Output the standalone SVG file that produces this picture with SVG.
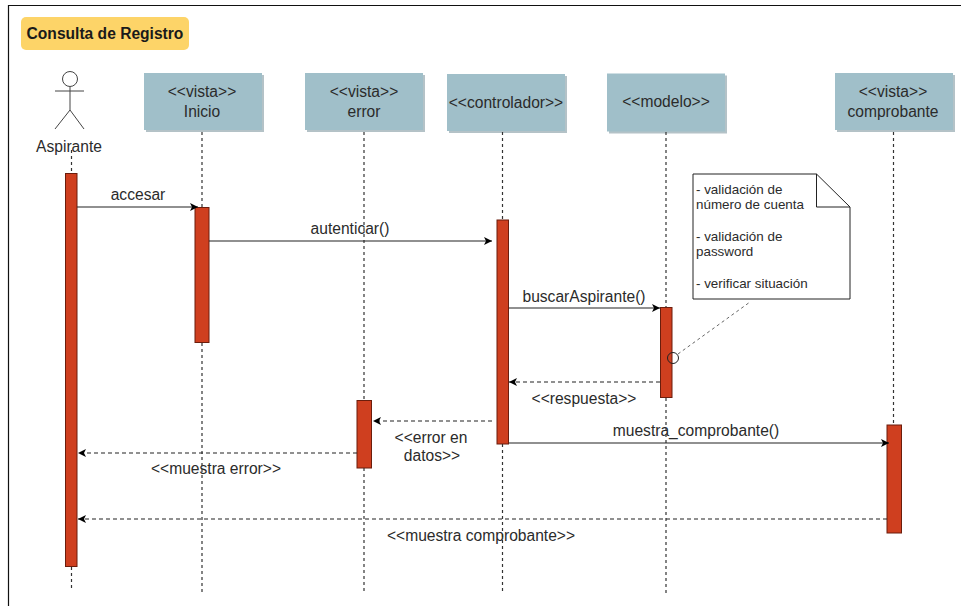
<svg xmlns="http://www.w3.org/2000/svg" width="961" height="606" viewBox="0 0 961 606">
<defs>
<marker id="arr" markerWidth="10" markerHeight="10" refX="8" refY="4.500" orient="auto" markerUnits="userSpaceOnUse"><path d="M0,0.500 L8,4.500 L0,8.500 L2,4.500 Z" fill="#000"/></marker>
</defs>
<style>
text{font-family:"Liberation Sans",Arial,sans-serif;fill:#2b2b2b;font-size:15.600px;text-anchor:middle}
.head{fill:#a0bfc9;filter:drop-shadow(2px 2px 0 #b4c2c7)}
.act{fill:#cf3f1f;stroke:#6b1d0c;stroke-width:1}
.life{stroke:#333;stroke-width:1.200;stroke-dasharray:3 3;fill:none}
.msg{stroke:#222;stroke-width:1.200;fill:none;marker-end:url(#arr)}
.ret{stroke:#222;stroke-width:1.200;fill:none;stroke-dasharray:4 3;marker-end:url(#arr)}
.note{font-size:13.400px;text-anchor:start}
</style>
<rect width="961" height="606" fill="#fff"/>
<path d="M8.500 606 V5.500 H961" fill="none" stroke="#111" stroke-width="1.200"/>
<g id="title"><rect x="21" y="17" width="168" height="33" rx="5" fill="#fdd468"/><text x="105" y="39" style="font-weight:bold;fill:#1a1a1a">Consulta de Registro</text></g>
<g id="aspirante">
<circle cx="70" cy="79" r="7.500" fill="#fff" stroke="#444" stroke-width="1"/>
<path d="M70 87V110M55 91H84M70 110L55 129M70 110L84 129" fill="none" stroke="#444" stroke-width="1"/>
<text x="69" y="152">Aspirante</text>
<rect class="act" x="65.500" y="173.500" width="11.500" height="393"/>
</g>
<g id="inicio">
<rect class="head" x="144" y="73" width="118" height="57"/>
<text x="202" y="97">&lt;&lt;vista&gt;&gt;</text><text x="202" y="117">Inicio</text>
<rect class="act" x="195" y="207.500" width="14" height="135"/>
</g>
<g id="error">
<rect class="head" x="305" y="73" width="118" height="57"/>
<text x="364" y="97">&lt;&lt;vista&gt;&gt;</text><text x="364" y="117">error</text>
<rect class="act" x="357" y="400.500" width="14.500" height="67.500"/>
</g>
<g id="controlador">
<rect class="head" x="447" y="74" width="118" height="57"/>
<text x="506" y="108">&lt;&lt;controlador&gt;&gt;</text>
<rect class="act" x="497" y="220" width="11.500" height="224"/>
</g>
<g id="modelo">
<rect class="head" x="607" y="73.500" width="118" height="58"/>
<text x="666" y="107">&lt;&lt;modelo&gt;&gt;</text>
<rect class="act" x="660.500" y="307.500" width="11.500" height="90"/>
<circle cx="673" cy="358" r="5.500" fill="none" stroke="#222" stroke-width="1"/>
</g>
<g id="comprobante">
<rect class="head" x="835" y="73" width="118" height="57"/>
<text x="893" y="97">&lt;&lt;vista&gt;&gt;</text><text x="893" y="117">comprobante</text>
<rect class="act" x="887" y="425" width="14.500" height="108"/>
</g>
<g id="nota">
<path d="M693 174H816.500L850 207V299H693Z" fill="#fff" stroke="#222" stroke-width="1"/>
<path d="M816.500 174V207H850" fill="none" stroke="#222" stroke-width="1"/>
<text class="note" x="696" y="194">- validación de</text>
<text class="note" x="696" y="209">número de cuenta</text>
<text class="note" x="696" y="241">- validación de</text>
<text class="note" x="696" y="256">password</text>
<text class="note" x="696" y="288">- verificar situación</text>
</g>
<g id="connectors">
<path class="life" d="M71.500 150V173M71.500 567V591"/>
<path class="life" d="M202 132V207M202 343V593"/>
<path class="life" d="M364 132V400M364 468V593"/>
<path class="life" d="M502.500 132V220M502.500 444V593"/>
<path class="life" d="M666 132V307M666 398V593"/>
<path class="life" d="M893.500 132V425"/>
<path class="msg" d="M77 207H198"/>
<path class="msg" d="M209 241H492"/>
<path class="msg" d="M509 308H660"/>
<path class="ret" d="M660 382H509"/>
<path class="ret" d="M492 421H373"/>
<path class="msg" d="M509 443H889"/>
<path class="ret" d="M357 453H78"/>
<path class="ret" d="M887 519H78"/>
<path d="M678 354L750 302" fill="none" stroke="#666" stroke-width="1" stroke-dasharray="3 3"/>
</g>
<g id="labels">
<text x="138" y="200">accesar</text>
<text x="350" y="234">autenticar()</text>
<text x="584" y="302">buscarAspirante()</text>
<text x="584" y="404">&lt;&lt;respuesta&gt;&gt;</text>
<text x="431" y="443">&lt;&lt;error en</text><text x="432" y="461">datos&gt;&gt;</text>
<text x="696" y="436">muestra_comprobante()</text>
<text x="216" y="474">&lt;&lt;muestra error&gt;&gt;</text>
<text x="481" y="541">&lt;&lt;muestra comprobante&gt;&gt;</text>
</g>
</svg>
